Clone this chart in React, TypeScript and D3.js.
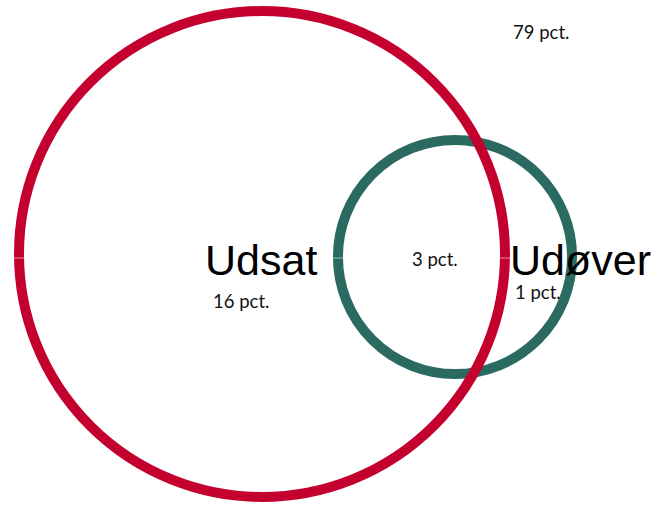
import * as d3 from "d3";

// Venn sets and region shares (pct.)
const setNames = ["Udsat", "Udøver"];
// set sizes (labels show the rounded regions: 16 + 3, 3 + 1)
const setShares = [19.4, 4.5];
const setColors = ["#c4002f", "#2b6a61"];
const regionLabels = ["16 pct.", "3 pct.", "1 pct.", "79 pct."];

const App = () => {
  const width = 655;
  const height = 506;

  // circle radius from share (area proportional)
  const rScale = d3.scaleSqrt().domain([0, setShares[0]]).range([0, 243]);
  const centers: [number, number][] = [
    [262, 254],
    [455, 257],
  ];
  const circles = setShares.map((v, i) => ({
    name: setNames[i],
    r: rScale(v),
    cx: centers[i][0],
    cy: centers[i][1],
    color: setColors[i],
  }));

  const labelPos: [number, number][] = [
    [213, 308],
    [412, 266],
    [515, 299],
    [513, 39],
  ];
  const namePos: [number, number][] = [
    [205, 275],
    [510, 275],
  ];

  return (
    <svg
      width={width}
      height={height}
      style={{ position: "absolute", left: 0, top: 0, background: "#fff" }}
    >
      {/* green drawn first so the red ring sits on top at the crossings */}
      {[...circles].reverse().map((c) => (
        <circle
          key={c.name}
          cx={c.cx}
          cy={c.cy}
          r={c.r}
          fill="none"
          stroke={c.color}
          strokeWidth={10}
        />
      ))}
      <line
        x1={8}
        x2={516}
        y1={258}
        y2={258}
        stroke="#fff"
        strokeWidth={1}
        opacity={0.55}
      />
      {circles.map((c, i) => (
        <text
          key={c.name}
          x={namePos[i][0]}
          y={namePos[i][1]}
          fontFamily="'Liberation Sans', Arial, sans-serif"
          fontSize={43}
          fill="#000"
        >
          {c.name}
        </text>
      ))}
      {regionLabels.map((t, i) => (
        <text
          key={t}
          x={labelPos[i][0]}
          y={labelPos[i][1]}
          fontFamily="Lato, 'Open Sans', sans-serif"
          fontSize={18.5}
          fill="#111"
        >
          {t}
        </text>
      ))}
    </svg>
  );
};

export default App;
